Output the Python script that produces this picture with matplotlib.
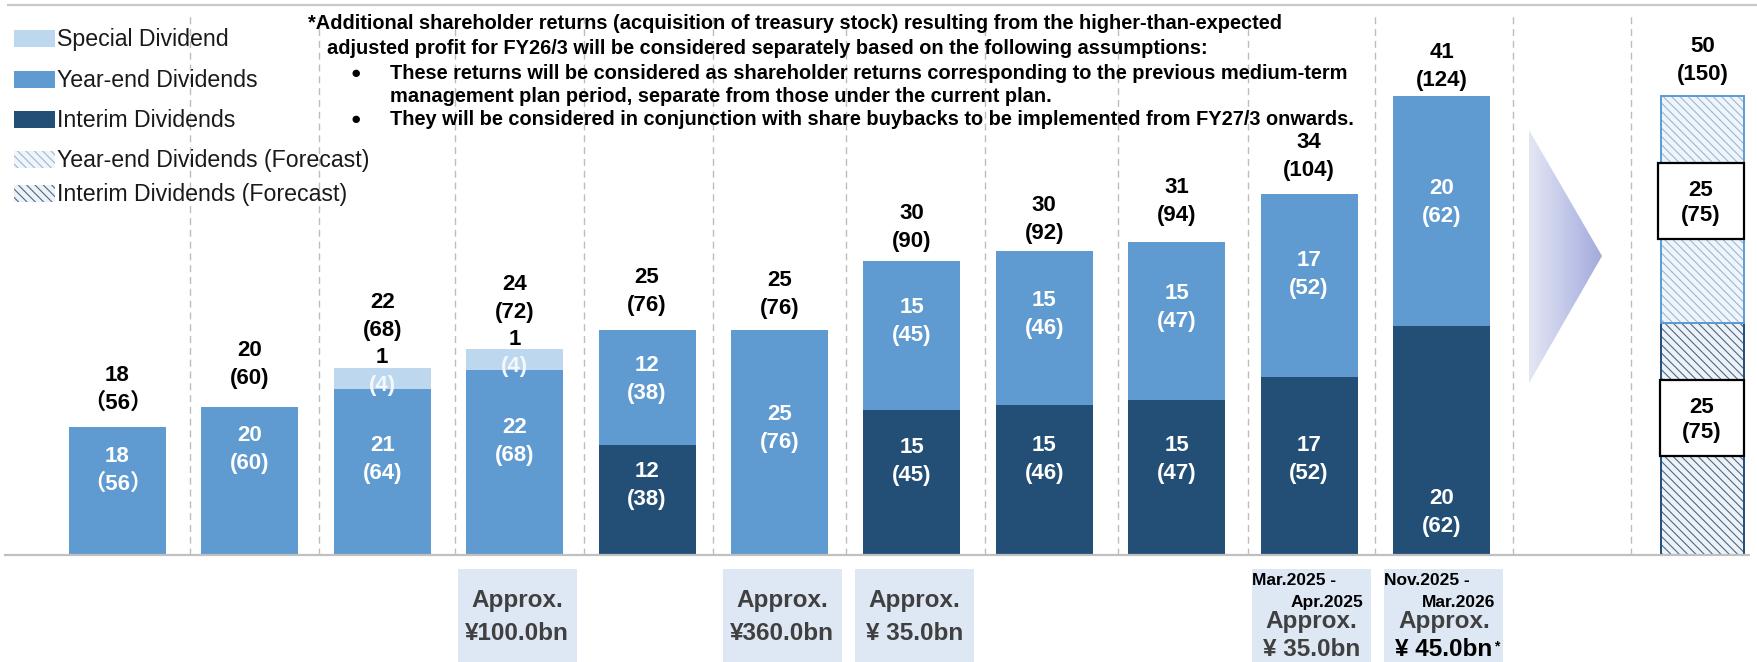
import numpy as np
import matplotlib
matplotlib.use("Agg")
import matplotlib.pyplot as plt
from matplotlib.patches import Rectangle, Polygon
from matplotlib.colors import LinearSegmentedColormap

plt.rcParams['font.family'] = ['Liberation Sans', 'Noto Sans CJK JP', 'DejaVu Sans']
plt.rcParams['hatch.linewidth'] = 0.8

# ---------------- data ----------------
total_dps = [18, 20, 22, 24, 25, 25, 30, 30, 31, 34, 41, 50]
total_yen = ['（56）', '(60)', '(68)', '(72)', '(76)', '(76)', '(90)', '(92)', '(94)', '(104)', '(124)', '(150)']
interim_dps = [0, 0, 0, 0, 12, 0, 15, 15, 15, 17, 20, 25]
interim_yen = [0, 0, 0, 0, 38, 0, 45, 46, 47, 52, 62, 75]
yearend_dps = [18, 20, 21, 22, 12, 25, 15, 15, 15, 17, 20, 25]
yearend_yen = [56, 60, 64, 68, 38, 76, 45, 46, 47, 52, 62, 75]
special_dps = [0, 0, 1, 1, 0, 0, 0, 0, 0, 0, 0, 0]
special_yen = [0, 0, 4, 4, 0, 0, 0, 0, 0, 0, 0, 0]
# drawn segment heights (the chart is not drawn to scale)
interim_h = [0, 0, 0, 0, 110, 0, 145, 150, 155, 178, 229, 232]
yearend_h = [128, 148, 166, 185, 115, 225, 149, 154, 158, 183, 230, 227]
special_h = [0, 0, 21, 21, 0, 0, 0, 0, 0, 0, 0, 0]

buyback_bar = [3, 5, 6, 9, 10]
buyback_amount = ['¥100.0bn', '¥360.0bn', '¥ 35.0bn', '¥ 35.0bn', '¥ 45.0bn']
buyback_period = [None, None, None, ('Mar.2025 -', 'Apr.2025'), ('Nov.2025 -', 'Mar.2026')]

legend_labels = ['Special Dividend', 'Year-end Dividends', 'Interim Dividends',
                 'Year-end Dividends (Forecast)', 'Interim Dividends (Forecast)']

note_lines = [
    '*Additional shareholder returns (acquisition of treasury stock) resulting from the higher-than-expected',
    'adjusted profit for FY26/3 will be considered separately based on the following assumptions:',
    'These returns will be considered as shareholder returns corresponding to the previous medium-term',
    'management plan period, separate from those under the current plan.',
    'They will be considered in conjunction with share buybacks to be implemented from FY27/3 onwards.',
]

# ---------------- layout / style ----------------
W, H = 1758, 662
SX = 132.4
X0 = -117.5 / SX
BASE = 555

def dx(px):
    return X0 + px / SX

def dy(py):
    return BASE - py

LIGHT = '#bdd7ee'
MID = '#5f9bd0'
DARK = '#234f76'
BOXC = '#dee8f4'

xpos = [0, 1, 2, 3, 4, 5, 6, 7, 8, 9, 10, 11.975]
bar_w = 97 / SX
fc_w = 83 / SX
grid_x = [0.55, 1.52, 2.55, 3.52, 4.5, 5.5, 6.55, 7.56, 8.54, 9.5, 10.54, 11.43]
top_gap = [26, 31, 13, 12, 27, 24, 22, 20, 29, 26, 18, 24]
ye_shift = [23, 34, 15, 23, 10, 16, 16, 16, 16, 13, 11, 8]
in_shift = [0, 0, 0, 0, 17, 0, 23, 23, 20, 9, -70, 21]

fig = plt.figure(figsize=(W / 100, H / 100), dpi=100)
ax = fig.add_axes([0, 0, 1, 1])
ax.set_xlim(dx(0), dx(W))
ax.set_ylim(dy(H), dy(0))
ax.axis('off')

def em(pt):
    return pt * 100 / 72

def put(x, yc, s, size, color='black', weight='bold', ha='center', z=6):
    # yc = visual centre of capitals / digits, data units
    return ax.text(x, yc - 0.358 * em(size), s, fontsize=size, color=color,
                   fontweight=weight, ha=ha, va='baseline', zorder=z)

# frame lines
ax.plot([dx(7), dx(W)], [dy(5), dy(5)], color='#c8c8c8', lw=1.6, zorder=1, solid_capstyle='butt')
ax.plot([dx(4), dx(1750)], [0, 0], color='#c0c0c0', lw=1.6, zorder=4, solid_capstyle='butt')
for g in grid_x:
    ax.plot([g, g], [0, dy(12)], color='#bdbdbd', lw=1.0, ls=(0, (5, 3.5)), zorder=1)

# actual bars
n = 11
xs = xpos[:n]
ax.bar(xs, interim_h[:n], width=bar_w, color=DARK, zorder=3)
ax.bar(xs, yearend_h[:n], bottom=interim_h[:n], width=bar_w, color=MID, zorder=3)
sb_bottom = [a + b for a, b in zip(interim_h[:n], yearend_h[:n])]
ax.bar(xs, special_h[:n], bottom=sb_bottom, width=bar_w, color=LIGHT, zorder=3)

# forecast bar (hatched)
HATCH = '\\\\\\\\'
FC_IN_BG, FC_IN_HT = '#eef1f5', '#4a6a8a'
FC_YE_BG, FC_YE_HT = '#eff5fb', '#9bb8d4'
fx = xpos[11]
ax.bar(fx, interim_h[11], width=fc_w, color=FC_IN_BG, edgecolor='none', zorder=3)
ax.bar(fx, interim_h[11], width=fc_w, color='none', edgecolor=FC_IN_HT, hatch=HATCH, lw=0, zorder=3)
ax.bar(fx, interim_h[11], width=fc_w, color='none', edgecolor='#1f4e79', lw=1.4, zorder=3)
ax.bar(fx, yearend_h[11], bottom=interim_h[11], width=fc_w, color=FC_YE_BG, edgecolor='none', zorder=3)
ax.bar(fx, yearend_h[11], bottom=interim_h[11], width=fc_w, color='none', edgecolor=FC_YE_HT, hatch=HATCH, lw=0, zorder=3)
ax.bar(fx, yearend_h[11], bottom=interim_h[11], width=fc_w, color='none', edgecolor='#5b9bd5', lw=1.4, zorder=3)

# labels
LS = 16
for i, x in enumerate(xpos):
    top = interim_h[i] + yearend_h[i] + special_h[i]
    y = top + top_gap[i]
    if special_dps[i]:
        put(x, y, str(special_dps[i]), LS)
        y += 27
    put(x, y, total_yen[i], LS)
    put(x, y + 28, str(total_dps[i]), LS)
    if i == 11:
        continue
    c = interim_h[i] + yearend_h[i] / 2 + ye_shift[i]
    lab = total_yen[i] if i == 0 else '(%d)' % yearend_yen[i]
    put(x, c + 14, str(yearend_dps[i]), LS, color='white')
    put(x, c - 14, lab, LS, color='white')
    if interim_h[i]:
        c = interim_h[i] / 2 + in_shift[i]
        put(x, c + 14, str(interim_dps[i]), LS, color='white')
        put(x, c - 14, '(%d)' % interim_yen[i], LS, color='white')
    if special_h[i]:
        c = interim_h[i] + yearend_h[i] + special_h[i] / 2 - 5
        put(x, c, '(%d)' % special_yen[i], LS, color='#f4f8fc')

# forecast value boxes
for (bx0, bx1, by0, by1), val, yen in [((1658, 1744, 163, 239), yearend_dps[11], yearend_yen[11]),
                                       ((1660, 1744, 380, 456), interim_dps[11], interim_yen[11])]:
    ax.add_patch(Rectangle((dx(bx0), dy(by1)), (bx1 - bx0) / SX, by1 - by0,
                           facecolor='white', edgecolor='black', lw=1.6, zorder=5))
    cy = dy((by0 + by1) / 2)
    put(dx((bx0 + bx1) / 2), cy + 12.5, str(val), LS)
    put(dx((bx0 + bx1) / 2), cy - 12.5, '(%d)' % yen, LS)

# arrow with gradient
grad = np.linspace(0, 1, 256).reshape(1, -1)
cmap = LinearSegmentedColormap.from_list('g', ['#e3e7f4', '#a3aadd'])
tri = Polygon([(dx(1529), dy(130)), (dx(1602), dy(256)), (dx(1529), dy(383))],
              closed=True, facecolor='none', edgecolor='none')
ax.add_patch(tri)
im = ax.imshow(grad, cmap=cmap, extent=(dx(1529), dx(1602), dy(383), dy(130)),
               aspect='auto', zorder=2, interpolation='bilinear')
im.set_clip_path(tri)
ax.set_xlim(dx(0), dx(W))
ax.set_ylim(dy(H), dy(0))

# buyback boxes
BS = 17.5
for b, amt, per in zip(buyback_bar, buyback_amount, buyback_period):
    cpx = (xpos[b] - X0) * SX
    ax.add_patch(Rectangle((dx(cpx - 57), dy(H)), 119 / SX, 662 - 569,
                           facecolor=BOXC, edgecolor='none', zorder=2))
    bc = dx(cpx + 2.5)
    if per is None:
        put(bc, dy(598), 'Approx.', BS, color='#404040')
        put(bc, dy(631), amt, BS, color='#404040')
    else:
        put(dx(cpx - 57), dy(579), per[0], 12.5, ha='left')
        put(dx(cpx + 54), dy(601), per[1], 12.5, ha='right')
        put(bc, dy(619), 'Approx.', BS, color='#404040')
        last = b == buyback_bar[-1]
        t = put(bc, dy(647), amt, BS, color='black' if last else '#404040')
        if last:
            ax.annotate('*', xy=(1, 1), xycoords=t, xytext=(1, -1), textcoords='offset points',
                        ha='left', va='top', fontsize=10, fontweight='bold')

# legend (drawn manually)
leg_y = [38, 79, 119, 159, 193]
for k, (lab, yy) in enumerate(zip(legend_labels, leg_y)):
    r0 = (dx(14), dy(yy + 8.5))
    rw, rh = 41 / SX, 17
    if k == 0:
        ax.add_patch(Rectangle(r0, rw, rh, facecolor=LIGHT, edgecolor='none', zorder=3))
    elif k == 1:
        ax.add_patch(Rectangle(r0, rw, rh, facecolor=MID, edgecolor='none', zorder=3))
    elif k == 2:
        ax.add_patch(Rectangle(r0, rw, rh, facecolor=DARK, edgecolor='none', zorder=3))
    elif k == 3:
        ax.add_patch(Rectangle(r0, rw, rh, facecolor=FC_YE_BG, edgecolor='none', zorder=3))
        ax.add_patch(Rectangle(r0, rw, rh, facecolor='none', edgecolor=FC_YE_HT, hatch=HATCH, lw=0, zorder=3))
    else:
        ax.add_patch(Rectangle(r0, rw, rh, facecolor=FC_IN_BG, edgecolor='none', zorder=3))
        ax.add_patch(Rectangle(r0, rw, rh, facecolor='none', edgecolor=FC_IN_HT, hatch=HATCH, lw=0, zorder=3))
    put(dx(57), dy(yy), lab, 16.7, color='#1a1a1a', weight='normal', ha='left')

# note text
NS = 14.4
put(dx(308), dy(22), note_lines[0], NS, ha='left')
put(dx(327), dy(47), note_lines[1], NS, ha='left')
put(dx(351), dy(72), '●', 12.5, ha='left')
put(dx(390), dy(72), note_lines[2], NS, ha='left')
put(dx(390), dy(95), note_lines[3], NS, ha='left')
put(dx(351), dy(118), '●', 12.5, ha='left')
put(dx(390), dy(118), note_lines[4], NS, ha='left')

fig.savefig('out.png', dpi=100, facecolor='white')
